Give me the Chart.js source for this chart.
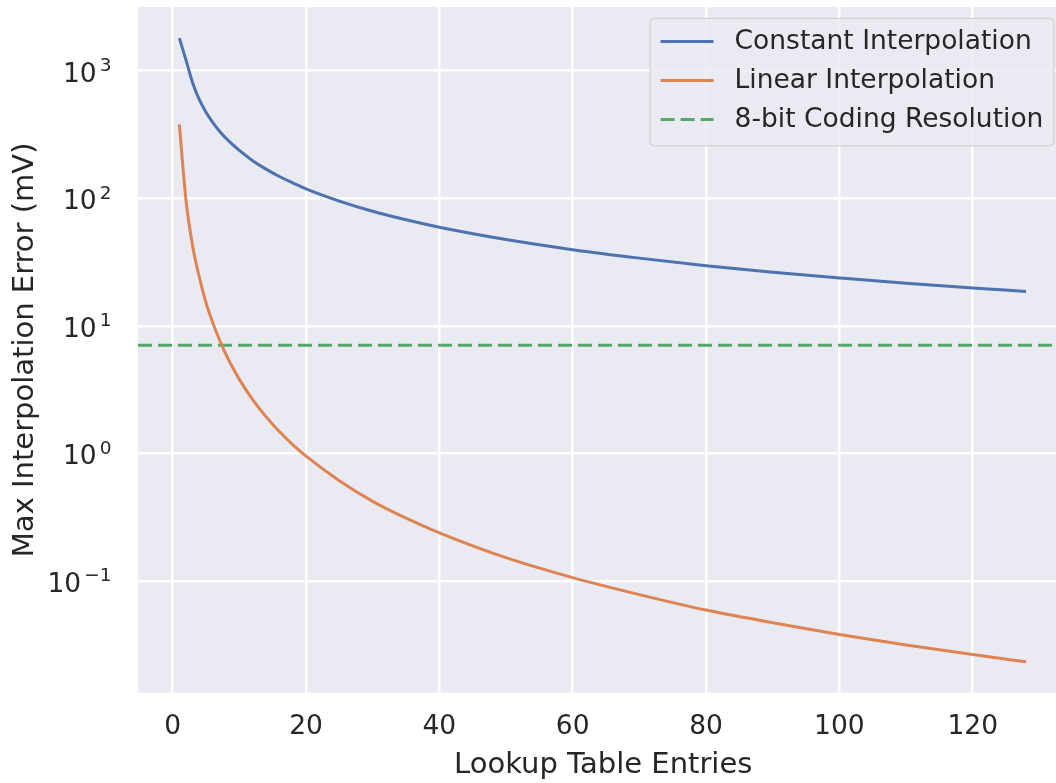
<!DOCTYPE html>
<html>
<head>
<meta charset="utf-8">
<title>Lookup table interpolation error</title>
<script src="https://cdn.jsdelivr.net/npm/chart.js@4.4.0/dist/chart.umd.min.js"></script>
<style>
  html, body { margin: 0; padding: 0; background: #ffffff; overflow: hidden; }
  #wrap { width: 1070px; height: 783px; }
</style>
</head>
<body>
<div id="wrap"><canvas id="errChart" width="1070" height="783"></canvas></div>
<script>
// lookup table sizes and the max error (mV) for each interpolation scheme
const entries = [1, 2, 3, 4, 5, 6, 7, 8, 9, 10, 12, 14, 16, 18, 20, 25, 30, 35, 40, 50, 60, 70, 80, 90, 100, 110, 120, 128];
const constantErr = [1800, 1210, 800, 592, 472, 393, 337, 295, 263, 237, 197, 169, 148, 132, 118.5, 95, 79, 67.7, 59.2, 47.4, 39.5, 33.9, 29.6, 26.3, 23.7, 21.5, 19.8, 18.6];
const linearErr = [380, 96, 42, 24, 15.2, 10.6, 7.8, 5.95, 4.7, 3.8, 2.64, 1.94, 1.48, 1.17, 0.95, 0.61, 0.42, 0.31, 0.238, 0.152, 0.106, 0.078, 0.059, 0.047, 0.038, 0.0314, 0.0264, 0.0232];
const codingResolution = 7.03; // 1800 mV / 256 steps

const xTicks = [0, 20, 40, 60, 80, 100, 120];
const yTicks = [0.1, 1, 10, 100, 1000];
const yTickExp = ["\u22121", "0", "1", "2", "3"];

// axis limits
const X_MIN = -5.2, X_MAX = 134.35;
const Y_MIN = 0.01327, Y_MAX = 3157;

const INK = "#262626";
const FONT = "'DejaVu Sans', sans-serif";
Chart.defaults.font.family = FONT;

const toPoints = (xs, ys) => xs.map((x, i) => ({ x, y: ys[i] }));

// grey plot background
const plotBg = {
  id: "plotBg",
  beforeDraw(chart) {
    const { ctx, chartArea: a } = chart;
    ctx.save();
    ctx.fillStyle = "#EAEAF2";
    ctx.fillRect(a.left, a.top, a.right - a.left, a.bottom - a.top);
    ctx.restore();
  }
};

// 10^n style labels for the log axis
const powerLabels = {
  id: "powerLabels",
  afterDraw(chart) {
    const { ctx } = chart;
    const ys = chart.scales.y;
    const right = 111.5;
    ctx.save();
    ctx.fillStyle = INK;
    ctx.textBaseline = "alphabetic";
    ctx.textAlign = "right";
    yTicks.forEach((v, i) => {
      const py = ys.getPixelForValue(v);
      ctx.font = "18.5px " + FONT;
      const expW = ctx.measureText(yTickExp[i]).width;
      ctx.fillText(yTickExp[i], right, py + 0.5);
      ctx.font = "26.5px " + FONT;
      ctx.fillText("10", right - expW - 3, py + 11);
    });
    ctx.restore();
  }
};

// framed legend in the upper right corner of the plot
const boxLegend = {
  id: "boxLegend",
  afterDraw(chart) {
    const { ctx } = chart;
    const sets = chart.data.datasets;
    ctx.save();
    ctx.font = "26.5px " + FONT;
    const textW = Math.max(...sets.map(d => ctx.measureText(d.label).width));
    const pad = 10.6, handle = 53, gap = 21, rowH = 39;
    const right = 1054, top = 18.3, h = 127.5;
    const w = pad + handle + gap + textW + pad;
    const left = right - w, r = 5;

    ctx.beginPath();
    ctx.moveTo(left + r, top);
    ctx.lineTo(right - r, top);
    ctx.arcTo(right, top, right, top + r, r);
    ctx.lineTo(right, top + h - r);
    ctx.arcTo(right, top + h, right - r, top + h, r);
    ctx.lineTo(left + r, top + h);
    ctx.arcTo(left, top + h, left, top + h - r, r);
    ctx.lineTo(left, top + r);
    ctx.arcTo(left, top, left + r, top, r);
    ctx.closePath();
    ctx.fillStyle = "rgba(234,234,242,0.8)";
    ctx.fill();
    ctx.strokeStyle = "rgba(204,204,204,0.8)";
    ctx.lineWidth = 1.3;
    ctx.stroke();

    sets.forEach((d, i) => {
      const cy = top + 23.2 + i * rowH;
      const x0 = left + pad;
      ctx.beginPath();
      ctx.setLineDash(d.borderDash || []);
      ctx.strokeStyle = d.borderColor;
      ctx.lineWidth = d.borderWidth;
      ctx.moveTo(x0, cy);
      ctx.lineTo(x0 + handle, cy);
      ctx.stroke();
      ctx.setLineDash([]);
      ctx.fillStyle = INK;
      ctx.textAlign = "left";
      ctx.textBaseline = "middle";
      ctx.fillText(d.label, x0 + handle + gap, cy + 1);
    });
    ctx.restore();
  }
};

new Chart(document.getElementById("errChart"), {
  type: "line",
  data: {
    datasets: [
      {
        label: "Constant Interpolation",
        data: toPoints(entries, constantErr),
        borderColor: "#4C72B0",
        borderWidth: 3,
        cubicInterpolationMode: "monotone"
      },
      {
        label: "Linear Interpolation",
        data: toPoints(entries, linearErr),
        borderColor: "#DD8452",
        borderWidth: 3,
        cubicInterpolationMode: "monotone"
      },
      {
        label: "8-bit Coding Resolution",
        data: [{ x: X_MIN, y: codingResolution }, { x: X_MAX, y: codingResolution }],
        borderColor: "#55A868",
        borderWidth: 3,
        borderDash: [14, 6],
        borderCapStyle: "butt"
      }
    ]
  },
  options: {
    responsive: false,
    animation: false,
    events: [],
    elements: { point: { radius: 0 }, line: { tension: 0, fill: false } },
    layout: { padding: { top: 7, right: 1.6, left: 0, bottom: 0 } },
    plugins: { legend: { display: false }, tooltip: { enabled: false } },
    scales: {
      x: {
        type: "linear",
        min: X_MIN,
        max: X_MAX,
        afterBuildTicks: s => { s.ticks = xTicks.map(v => ({ value: v })); },
        afterFit: s => { s.height = 90.3; },
        border: { display: false },
        grid: { color: "#ffffff", lineWidth: 2.5, drawTicks: false },
        ticks: { color: INK, font: { size: 26.5 }, padding: 19, maxRotation: 0, autoSkip: false },
        title: { display: true, text: "Lookup Table Entries", color: INK, font: { size: 29 }, padding: { top: 0, bottom: 0 } }
      },
      y: {
        type: "logarithmic",
        min: Y_MIN,
        max: Y_MAX,
        afterBuildTicks: s => { s.ticks = yTicks.map(v => ({ value: v })); },
        afterFit: s => { s.width = 138; },
        border: { display: false },
        grid: { color: "#ffffff", lineWidth: 2.5, drawTicks: false },
        ticks: { display: false },
        title: { display: true, text: "Max Interpolation Error (mV)", color: INK, font: { size: 29 }, padding: { top: 8.5, bottom: 0 } }
      }
    }
  },
  plugins: [plotBg, powerLabels, boxLegend]
});
</script>
</body>
</html>
